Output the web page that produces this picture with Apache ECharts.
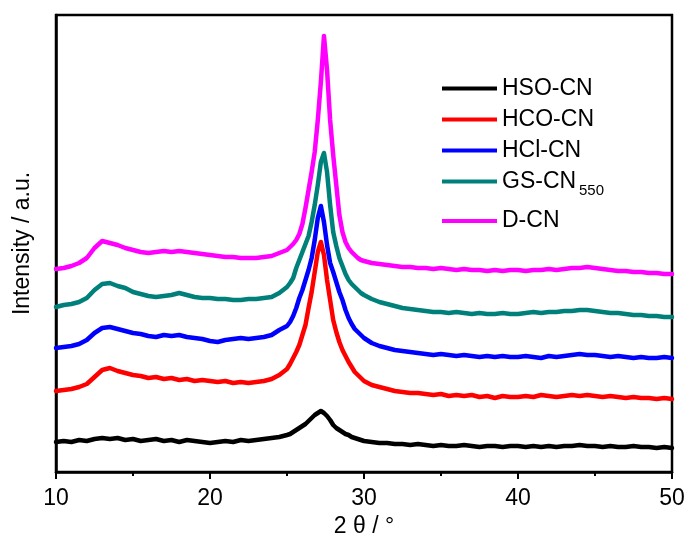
<!DOCTYPE html>
<html>
<head>
<meta charset="utf-8">
<script src="https://cdn.jsdelivr.net/npm/echarts@6/dist/echarts.min.js"></script>
<style>html,body{margin:0;padding:0;background:#fff}#c{width:687px;height:539px}</style>
</head>
<body>
<div id="c"></div>
<script>
var twoTheta = [10,10.5,11,11.5,12,12.5,13,13.5,14,14.5,15,15.5,16,16.5,17,17.5,18,18.5,19,19.5,20,20.5,21,21.5,22,22.5,23,23.5,24,24.5,
25,25.2,25.4,25.6,25.8,26,26.2,26.4,26.6,26.8,27,27.2,27.4,27.6,27.8,28,28.2,28.4,28.6,28.8,29,29.2,29.4,29.6,29.8,30,
30.5,31,31.5,32,32.5,33,33.5,34,34.5,35,35.5,36,36.5,37,37.5,38,38.5,39,39.5,40,40.5,41,41.5,42,42.5,43,43.5,44,44.5,45,45.5,46,46.5,47,47.5,48,48.5,49,49.5,50];

var seriesNames = ['HSO-CN','HCO-CN','HCl-CN','GS-CN550','D-CN'];

var hsoCN = [30,31,30,32,31,33,34,33,34,32,33,31,32,33,31,32,30,32,31,30,29,30,31,30,32,31,32,33,34,35,
37,38,40,42,44,46,48,51,54,57,59,61,59,56,52,47,44,42,40,38,37,35,34,33,32,31,
30,29,29,28,28,27,28,27,26,27,26,26,27,26,25,26,26,25,26,26,25,26,25,26,25,26,26,27,26,26,25,26,25,25,26,25,25,24,25,24];

var hcoCN = [81,82,83,85,88,95,102,104,101,99,97,96,94,95,93,94,92,93,91,92,91,90,91,89,90,89,90,91,93,97,
103,108,114,120,127,137,147,164,180,200,220,230,217,192,172,152,140,130,122,116,110,105,100,97,94,91,
87,85,83,81,80,79,79,78,77,78,76,77,76,77,75,76,74,76,75,75,76,75,77,76,75,76,77,76,77,76,75,76,75,74,75,74,74,73,74,73];

var hclCN = [124,125,126,128,132,139,144,145,143,141,139,138,136,135,137,136,137,135,134,133,131,130,132,133,134,133,134,135,137,142,
146,150,156,164,174,182,192,202,214,232,254,266,250,227,209,200,190,180,172,162,154,148,143,140,137,134,
129,126,124,122,121,120,119,118,117,118,117,116,117,116,115,116,115,116,115,115,116,115,114,116,115,116,117,118,117,117,116,115,116,115,114,115,114,114,115,114];

var gsCN550 = [165,167,168,170,174,182,188,189,186,184,180,178,176,175,176,177,179,177,175,174,174,173,173,172,172,173,173,174,175,179,
185,189,194,204,212,220,228,236,250,267,287,310,319,300,267,240,226,214,206,198,192,188,185,182,179,177,
173,170,168,166,164,163,162,161,160,160,159,160,159,158,159,158,158,159,158,158,159,160,159,160,160,161,161,162,162,161,160,159,159,158,157,157,156,156,155,155];

var dCN = [203,204,206,209,214,224,231,229,227,224,222,220,219,220,221,220,221,220,219,218,217,216,215,215,214,214,214,215,216,219,
222,225,228,232,238,248,264,282,300,320,352,390,436,402,352,317,287,257,240,230,224,220,217,214,212,211,
209,208,207,206,205,205,204,204,203,204,203,202,203,202,202,201,202,201,202,202,201,202,202,203,202,203,204,204,205,204,203,202,201,201,200,200,199,199,198,198];

var xTicks = [10,20,30,40,50];
var colors = {'HSO-CN':'#000000','HCO-CN':'#ff0000','HCl-CN':'#0000ff','GS-CN550':'#00807a','D-CN':'#ff00ff'};
var values = {'HSO-CN':hsoCN,'HCO-CN':hcoCN,'HCl-CN':hclCN,'GS-CN550':gsCN550,'D-CN':dCN};

function pairs(arr){ return twoTheta.map(function(x,i){ return [x, arr[i]]; }); }

var font = "'Liberation Sans', Arial, sans-serif";
var drawOrder = ['D-CN','GS-CN550','HCl-CN','HCO-CN','HSO-CN'];
var series = drawOrder.map(function(n){
  return {
    name: n, type: 'line', data: pairs(values[n]), showSymbol: false, symbol: 'none',
    lineStyle: {color: colors[n], width: 4.5, join: 'round', cap: 'round'}, itemStyle: {color: colors[n]},
    animation: false, z: 2
  };
});

var chart = echarts.init(document.getElementById('c'), null, {renderer: 'canvas'});
chart.setOption({
  backgroundColor: '#ffffff',
  animation: false,
  grid: {left: 56, right: 15, top: 15, bottom: 67, show: true, borderColor: '#000', borderWidth: 2.5,
         backgroundColor: 'transparent', containLabel: false, outerBoundsMode: 'none'},
  legend: {
    data: seriesNames,
    orient: 'vertical',
    left: 442, top: 77, padding: 0,
    icon: 'rect', itemWidth: 55, itemHeight: 4,
    itemGap: 8,
    textStyle: {
      fontFamily: font, fontSize: 23, color: '#000', lineHeight: 22,
      rich: {
        a: {fontFamily: font, fontSize: 23, color: '#000', lineHeight: 22},
        d: {fontFamily: font, fontSize: 23, color: '#000', lineHeight: 40}
      }
    },
    formatter: function(n){
      if (n === 'GS-CN550') return '{a|GS-CN}';
      if (n === 'D-CN') return '{d|D-CN}';
      return n;
    }
  },
  graphic: [{
    type: 'text', left: 579, top: 183, silent: true,
    style: {text: '550', font: "15px 'Liberation Sans', Arial, sans-serif", fill: '#000'}
  }],
  xAxis: {
    type: 'value', min: 10, max: 50, interval: 10,
    name: '2 θ / °', nameLocation: 'middle', nameGap: 43,
    nameTextStyle: {fontFamily: font, fontSize: 23, color: '#000'},
    axisLine: {show: true, onZero: false, lineStyle: {color: '#000', width: 2.5}},
    axisTick: {show: true, inside: false, length: 7, lineStyle: {color: '#000', width: 2}},
    minorTick: {show: true, splitNumber: 2, length: 4, lineStyle: {color: '#000', width: 2}},
    axisLabel: {fontFamily: font, fontSize: 23, color: '#000', margin: 15,
      formatter: function(v){ return xTicks.indexOf(v) >= 0 ? String(v) : ''; }},
    splitLine: {show: false}
  },
  yAxis: {
    type: 'value', min: 0, max: 457,
    name: 'Intensity / a.u.', nameLocation: 'middle', nameGap: 22,
    nameTextStyle: {fontFamily: font, fontSize: 23, color: '#000'},
    axisLine: {show: true, lineStyle: {color: '#000', width: 2.5}},
    axisTick: {show: false}, axisLabel: {show: false}, splitLine: {show: false}
  },
  series: series
});
</script>
</body>
</html>
